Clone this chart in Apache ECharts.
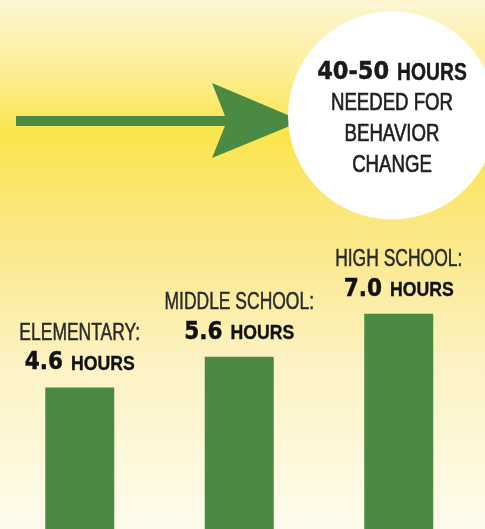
<!DOCTYPE html>
<html>
<head>
<meta charset="utf-8">
<script src="https://cdn.jsdelivr.net/npm/echarts@6/dist/echarts.min.js"></script>
<style>
html,body{margin:0;padding:0;}
#c{width:485px;height:529px;}
</style>
</head>
<body>
<div id="c"></div>
<script>
// ---- data ----
var categories = ['ELEMENTARY', 'MIDDLE SCHOOL', 'HIGH SCHOOL'];
var hours = [4.6, 5.6, 7.0];
var unit = 'HOURS';
var calloutRange = '40-50';
var calloutLines = ['NEEDED FOR', 'BEHAVIOR', 'CHANGE'];

var GREEN = '#4a8a42';
var SANS = '"Liberation Sans", Arial, sans-serif';
var NUMF = '"DejaVu Sans", sans-serif';
var SX_REG = 0.76, SX_BOLD = 0.84, SX_NUM = 0.9;

var chart = echarts.init(document.getElementById('c'), null, {renderer: 'canvas'});

var option = {
  animation: false,
  grid: {left: -3, right: 6.5, top: 0, bottom: 0, containLabel: false},
  xAxis: {
    type: 'category', data: categories,
    axisLine: {show: false}, axisTick: {show: false}, axisLabel: {show: false}
  },
  yAxis: {
    type: 'value', min: 0, max: 17.2,
    axisLine: {show: false}, axisTick: {show: false}, axisLabel: {show: false},
    splitLine: {show: false}
  },
  series: [{
    type: 'bar',
    data: hours,
    barWidth: 69,
    z: 2,
    itemStyle: {color: GREEN}
  }]
};
chart.setOption(option);

var ctx = document.createElement('canvas').getContext('2d');
function measure(text, font) { ctx.font = font; return ctx.measureText(text).width; }

// text placed by alphabetic baseline (middle ≈ baseline - 0.346em)
function txt(text, x, baseline, size, family, weight, sx, align, color, sw) {
  var font = (weight ? weight + ' ' : '') + size + 'px ' + family;
  return {
    type: 'text', x: x, y: baseline - 0.346 * size, z: 5, scaleX: sx, silent: true,
    style: {text: text, font: font, fill: color, stroke: color, lineWidth: sw,
            textAlign: align, textVerticalAlign: 'middle'}
  };
}
// "number UNIT" line centred on cx
function numLine(num, cx, baseline, numSize, unitSize, color) {
  var nf = 'bold ' + numSize + 'px ' + NUMF;
  var uf = 'bold ' + unitSize + 'px ' + SANS;
  var wn = measure(num, nf) * SX_NUM;
  var wu = measure(unit, uf) * SX_BOLD;
  var gap = 8;
  var x0 = cx - (wn + gap + wu) / 2;
  return [
    txt(num, x0, baseline, numSize, NUMF, 'bold', SX_NUM, 'left', color, 0.5),
    txt(unit, x0 + wn + gap, baseline, unitSize, SANS, 'bold', SX_BOLD, 'left', color, 0.4)
  ];
}

var g = [
  {
    type: 'rect', z: -10, silent: true,
    shape: {x: 0, y: 0, width: 485, height: 529},
    style: {
      fill: new echarts.graphic.LinearGradient(0, 0, 0, 1, [
        {offset: 0, color: '#fdf6d3'},
        {offset: 0.12, color: '#fcef9e'},
        {offset: 0.25, color: '#fbe54c'},
        {offset: 0.36, color: '#fbe66f'},
        {offset: 0.48, color: '#fbe98f'},
        {offset: 0.7, color: '#fdf3c6'},
        {offset: 1, color: '#fffcec'}
      ])
    }
  },
  {
    type: 'rect', z: 1, silent: true,
    shape: {x: 16, y: 116, width: 214, height: 10},
    style: {fill: GREEN}
  },
  {
    type: 'polygon', z: 1, silent: true,
    shape: {points: [[212, 83], [302, 121], [212, 158], [227, 121]]},
    style: {fill: GREEN}
  },
  {
    type: 'circle', z: 2, silent: true,
    shape: {cx: 392, cy: 115.5, r: 104},
    style: {fill: '#ffffff'}
  }
];
g = g.concat(numLine(calloutRange, 392, 81.5, 25, 23, '#1a1a1a'));
calloutLines.forEach(function (t, i) {
  g.push(txt(t, 392, 111.5 + i * 31, 24.5, SANS, '', SX_REG, 'center', '#1e1e1e', 0.7));
});

// bar labels, positioned from the chart's own scales
categories.forEach(function (name, i) {
  var p = chart.convertToPixel({xAxisIndex: 0, yAxisIndex: 0}, [i, hours[i]]);
  var b2 = p[1] - 16;
  g.push(txt(name + ':', p[0], b2 - 30, 23, SANS, '', SX_REG, 'center', '#2a2a2a', 0.5));
  g = g.concat(numLine(hours[i].toFixed(1), p[0], b2, 24, 21, '#111'));
});

chart.setOption({graphic: g});
</script>
</body>
</html>
